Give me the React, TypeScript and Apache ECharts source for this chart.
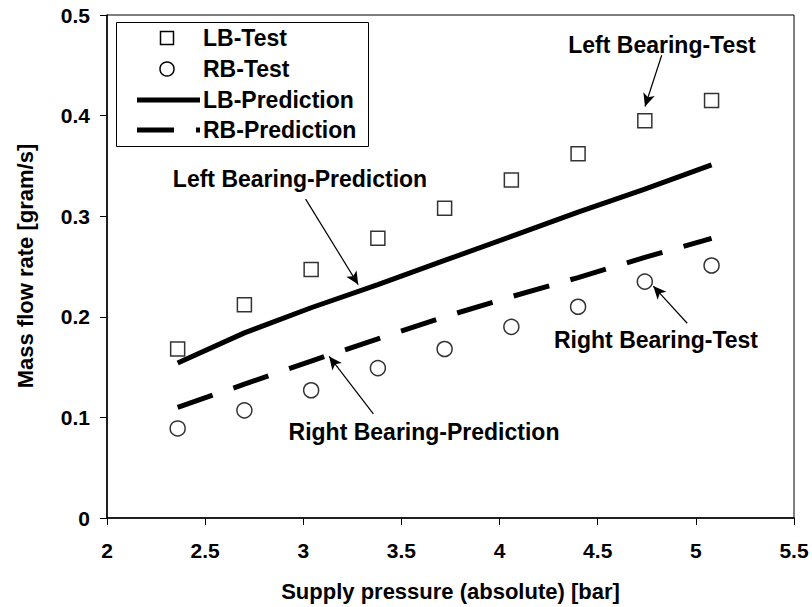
import React, { useEffect, useRef } from "react";
import * as echarts from "echarts";

const pressure = [2.36, 2.7, 3.04, 3.38, 3.72, 4.06, 4.4, 4.74, 5.08];
const lbTest = [0.168, 0.212, 0.247, 0.278, 0.308, 0.336, 0.362, 0.395, 0.415];
const rbTest = [0.089, 0.107, 0.127, 0.149, 0.168, 0.19, 0.21, 0.235, 0.251];
const lbPrediction = [0.154, 0.184, 0.209, 0.232, 0.256, 0.28, 0.304, 0.327, 0.351];
const rbPrediction = [0.11, 0.133, 0.156, 0.178, 0.2, 0.22, 0.239, 0.259, 0.278];

const xTitle = "Supply pressure (absolute) [bar]";
const yTitle = "Mass flow rate [gram/s]";
const legendNames = ["LB-Test", "RB-Test", "LB-Prediction", "RB-Prediction"];

// annotations: [label, arrow start, arrow end] in data coordinates
const annotations: { text: string; from: [number, number]; to: [number, number] }[] = [
  { text: "Left Bearing-Test", from: [4.826, 0.46], to: [4.741, 0.409] },
  { text: "Left Bearing-Prediction", from: [3.012, 0.317], to: [3.28, 0.232] },
  { text: "Right Bearing-Prediction", from: [3.357, 0.1034], to: [3.132, 0.1606] },
  { text: "Right Bearing-Test", from: [4.956, 0.1936], to: [4.783, 0.2305] },
];
const annotationPos: [number, number][] = [
  [662, 45],
  [300, 179],
  [424, 432],
  [656, 340],
];

const FONT = "'Liberation Sans', Arial, sans-serif";

export default function App() {
  const ref = useRef<HTMLDivElement>(null);
  useEffect(() => {
    if (!ref.current) return;
    const chart = echarts.init(ref.current, undefined, { renderer: "svg" });
    const pair = (ys: number[]) => pressure.map((x, i) => [x, ys[i]]);
    const legendX = 137;
    const rows = [38, 69, 100, 130];
    const option: any = {
      animation: false,
      backgroundColor: "#fff",
      textStyle: { fontFamily: FONT },
      grid: {
        left: 107,
        right: 18,
        top: 15,
        bottom: 88,
        show: true,
        borderColor: "#000",
        borderWidth: 1,
        backgroundColor: "transparent",
      },
      xAxis: {
        type: "value",
        min: 2,
        max: 5.5,
        interval: 0.5,
        name: xTitle,
        nameLocation: "middle",
        nameGap: 62,
        nameTextStyle: { fontSize: 22, fontWeight: "bold", color: "#000", fontFamily: FONT },
        axisLine: { lineStyle: { color: "#000", width: 1.5 } },
        axisTick: { inside: false, length: 7, lineStyle: { color: "#000", width: 1 } },
        axisLabel: { margin: 22, fontSize: 21, fontWeight: "bold", color: "#000", fontFamily: FONT },
        splitLine: { show: false },
      },
      yAxis: {
        type: "value",
        min: 0,
        max: 0.5,
        interval: 0.1,
        axisLine: { show: true, lineStyle: { color: "#000", width: 1.5 } },
        axisTick: { show: true, inside: false, length: 7, lineStyle: { color: "#000", width: 1 } },
        axisLabel: { margin: 17, fontSize: 21, fontWeight: "bold", color: "#000", fontFamily: FONT },
        splitLine: { show: false },
      },
      series: [
        {
          name: legendNames[2],
          type: "line",
          data: pair(lbPrediction),
          showSymbol: false,
          lineStyle: { color: "#000", width: 5 },
          z: 2,
        },
        {
          name: legendNames[3],
          type: "line",
          data: pair(rbPrediction),
          showSymbol: false,
          lineStyle: { color: "#000", width: 5, type: [37, 22] },
          z: 2,
        },
        {
          name: legendNames[0],
          type: "scatter",
          data: pair(lbTest),
          symbol: "rect",
          symbolSize: 14,
          itemStyle: { color: "#fff", borderColor: "#000", borderWidth: 1.5 },
          z: 3,
        },
        {
          name: legendNames[1],
          type: "scatter",
          data: pair(rbTest),
          symbol: "circle",
          symbolSize: 15,
          itemStyle: { color: "#fff", borderColor: "#000", borderWidth: 1.5 },
          z: 3,
        },
        {
          name: "arrows",
          type: "line",
          data: [],
          silent: true,
          markLine: {
            silent: true,
            animation: false,
            symbol: ["none", "arrow"],
            symbolSize: [9, 13],
            label: { show: false },
            lineStyle: { color: "#000", width: 1.2, type: "solid" },
            data: annotations.map((a) => [
              { coord: a.from, symbol: "none" },
              { coord: a.to, symbol: "arrow" },
            ]),
          },
        },
      ],
      graphic: [
        {
          type: "text",
          x: 25,
          y: 266,
          rotation: Math.PI / 2,
          style: {
            text: yTitle,
            fontSize: 22,
            fontWeight: "bold",
            fontFamily: FONT,
            fill: "#000",
            align: "center",
            verticalAlign: "middle",
          },
        },
        ...annotations.map((a, i) => ({
          type: "text",
          x: annotationPos[i][0],
          y: annotationPos[i][1],
          z: 10,
          style: {
            text: a.text,
            fontSize: 23,
            fontWeight: "bold",
            fontFamily: FONT,
            fill: "#000",
            align: "center",
            verticalAlign: "middle",
          },
        })),
        {
          type: "rect",
          shape: { x: 116.5, y: 22.5, width: 252, height: 124 },
          style: { fill: "#fff", stroke: "#000", lineWidth: 1 },
          z: 5,
        },
        {
          type: "rect",
          shape: { x: 160.5, y: rows[0] - 6.5, width: 13, height: 13 },
          style: { fill: "#fff", stroke: "#000", lineWidth: 1.5 },
          z: 6,
        },
        {
          type: "circle",
          shape: { cx: 167, cy: rows[1], r: 7 },
          style: { fill: "#fff", stroke: "#000", lineWidth: 1.5 },
          z: 6,
        },
        {
          type: "line",
          shape: { x1: legendX, y1: rows[2], x2: legendX + 63, y2: rows[2] },
          style: { stroke: "#000", lineWidth: 5 },
          z: 6,
        },
        {
          type: "line",
          shape: { x1: legendX, y1: rows[3], x2: legendX + 63, y2: rows[3] },
          style: { stroke: "#000", lineWidth: 5, lineDash: [37, 22] },
          z: 6,
        },
        ...legendNames.map((n, i) => ({
          type: "text",
          x: 203,
          y: rows[i],
          z: 6,
          style: {
            text: n,
            fontSize: 23,
            fontWeight: "bold",
            fontFamily: FONT,
            fill: "#000",
            align: "left",
            verticalAlign: "middle",
          },
        })),
      ],
    };
    chart.setOption(option);
    return () => chart.dispose();
  }, []);
  return <div ref={ref} style={{ width: 812, height: 607, position: "absolute", left: 0, top: 0 }} />;
}
